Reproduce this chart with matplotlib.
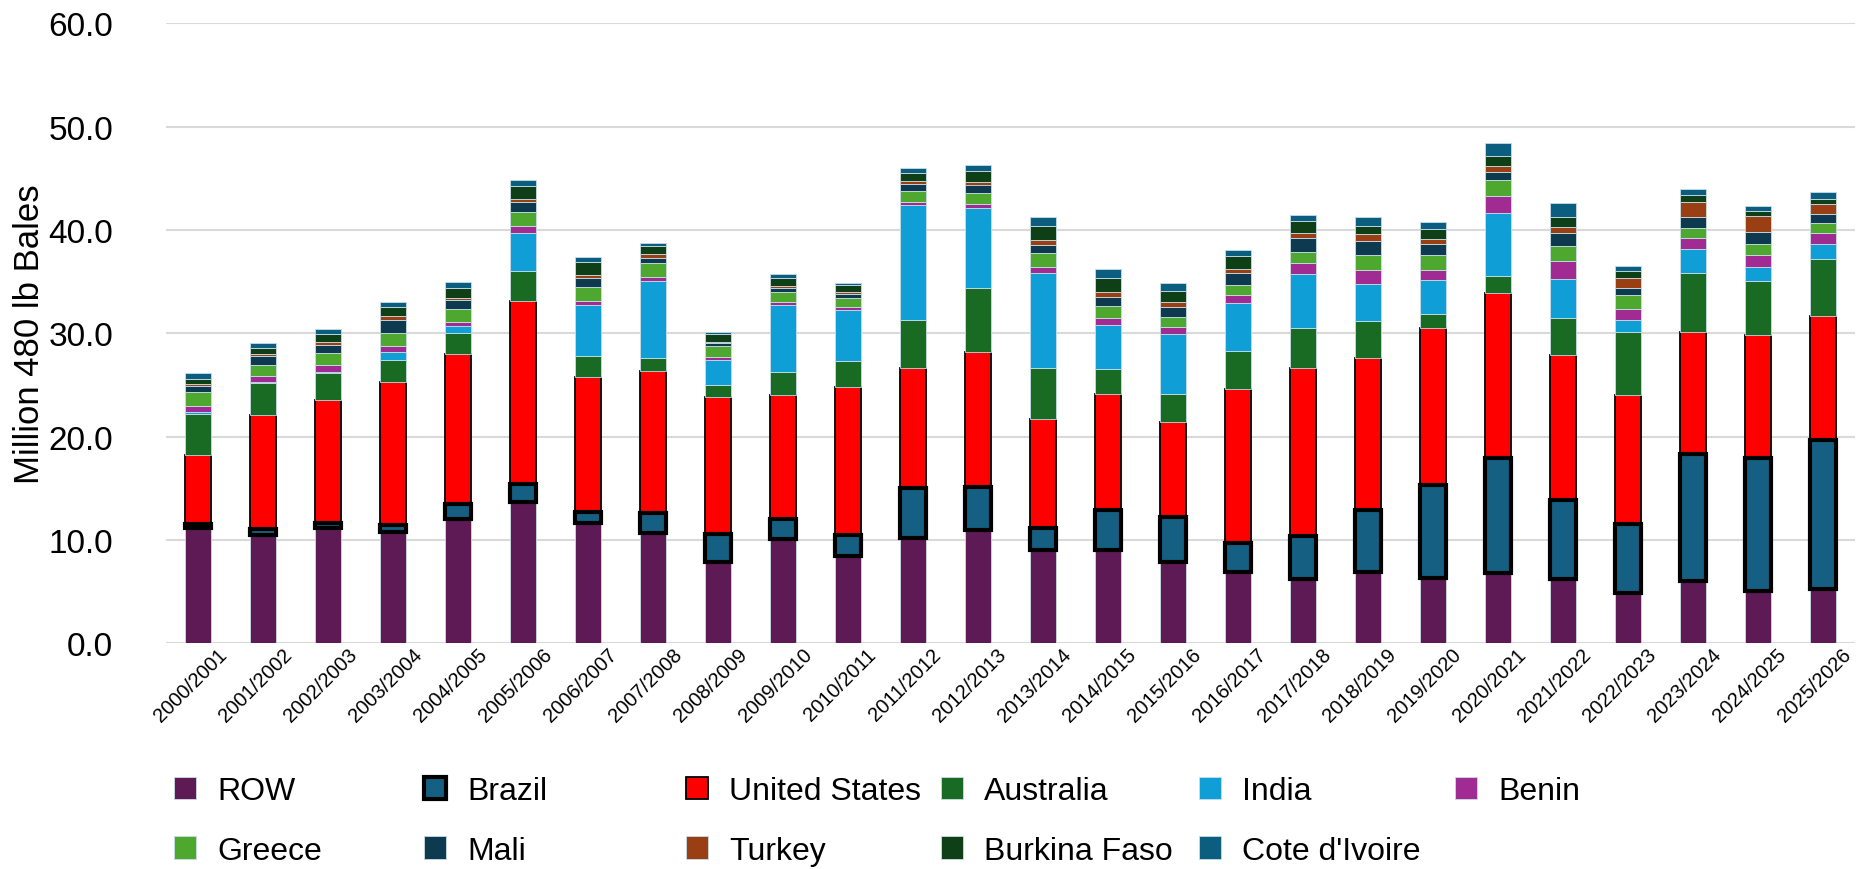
# stacked cotton production by country, 2000/2001 - 2025/2026
import matplotlib.pyplot as plt
import matplotlib.transforms as mtransforms
import numpy as np

plt.rcParams['font.family'] = ['Liberation Sans', 'DejaVu Sans']

years = ['2000/2001', '2001/2002', '2002/2003', '2003/2004', '2004/2005', '2005/2006',
         '2006/2007', '2007/2008', '2008/2009', '2009/2010', '2010/2011', '2011/2012',
         '2012/2013', '2013/2014', '2014/2015', '2015/2016', '2016/2017', '2017/2018',
         '2018/2019', '2019/2020', '2020/2021', '2021/2022', '2022/2023', '2023/2024',
         '2024/2025', '2025/2026']

row       = [11.15, 10.5, 11.2, 10.75, 12.0, 13.65, 11.6, 10.68, 7.9, 10.07, 8.42, 10.2, 10.94,
             9.03, 9.03, 7.87, 6.87, 6.25, 6.9, 6.32, 6.8, 6.2, 4.9, 6.06, 5.06, 5.26]
brazil    = [0.35, 0.6, 0.4, 0.7, 1.45, 1.77, 1.14, 1.97, 2.68, 1.96, 2.03, 4.83, 4.22,
             2.16, 3.87, 4.33, 2.87, 4.17, 6.03, 8.98, 11.1, 7.67, 6.62, 12.27, 12.88, 14.45]
usa       = [6.75, 11.0, 11.9, 13.82, 14.55, 17.75, 13.0, 13.74, 13.23, 12.04, 14.33, 11.62, 13.01,
             10.52, 11.23, 9.19, 14.88, 16.23, 14.69, 15.22, 15.98, 14.04, 12.52, 11.77, 11.93, 12.0]
australia = [3.95, 3.1, 2.65, 2.18, 2.0, 2.9, 2.1, 1.2, 1.23, 2.16, 2.52, 4.68, 6.2,
             4.9, 2.45, 2.77, 3.68, 3.87, 3.61, 1.36, 1.65, 3.58, 6.1, 5.71, 5.23, 5.49]
india     = [0.15, 0.1, 0.1, 0.7, 0.68, 3.65, 4.9, 7.45, 2.39, 6.52, 5.0, 11.1, 7.77,
             9.23, 4.2, 5.78, 4.62, 5.23, 3.55, 3.23, 6.13, 3.75, 1.1, 2.32, 1.32, 1.42]
benin     = [0.6, 0.6, 0.65, 0.65, 0.45, 0.65, 0.42, 0.45, 0.32, 0.32, 0.29, 0.26, 0.35,
             0.58, 0.71, 0.65, 0.77, 1.03, 1.39, 0.97, 1.58, 1.77, 1.1, 1.06, 1.13, 1.1]
greece    = [1.4, 1.05, 1.2, 1.24, 1.23, 1.35, 1.29, 1.35, 1.03, 0.9, 0.81, 1.1, 1.1,
             1.32, 1.19, 0.97, 1.03, 1.06, 1.36, 1.45, 1.61, 1.45, 1.36, 0.97, 1.1, 1.0]
mali      = [0.55, 0.9, 0.8, 1.2, 0.87, 0.97, 0.87, 0.45, 0.29, 0.42, 0.39, 0.65, 0.81,
             0.84, 0.87, 1.03, 1.1, 1.36, 1.36, 1.13, 0.74, 1.29, 0.71, 1.13, 1.19, 0.87]
turkey    = [0.15, 0.15, 0.3, 0.39, 0.2, 0.26, 0.32, 0.42, 0.13, 0.16, 0.19, 0.29, 0.26,
             0.42, 0.42, 0.42, 0.42, 0.48, 0.71, 0.48, 0.58, 0.58, 0.94, 1.42, 1.48, 0.9]
burkina   = [0.5, 0.6, 0.75, 0.9, 1.0, 1.35, 1.29, 0.74, 0.77, 0.77, 0.65, 0.74, 1.06,
             1.36, 1.36, 1.06, 1.23, 1.23, 0.77, 0.97, 1.03, 0.9, 0.68, 0.71, 0.48, 0.55]
cote      = [0.6, 0.45, 0.42, 0.48, 0.52, 0.55, 0.42, 0.32, 0.2, 0.39, 0.23, 0.48, 0.61,
             0.87, 0.87, 0.77, 0.58, 0.58, 0.87, 0.65, 1.19, 1.36, 0.48, 0.55, 0.52, 0.61]

names  = ['ROW', 'Brazil', 'United States', 'Australia', 'India', 'Benin',
          'Greece', 'Mali', 'Turkey', 'Burkina Faso', "Cote d'Ivoire"]
values = [row, brazil, usa, australia, india, benin, greece, mali, turkey, burkina, cote]
colors = ['#5E1A55', '#156082', '#FF0000', '#196B24', '#0F9ED5', '#A02B93',
          '#4EA72E', '#0E3A50', '#9A3F14', '#0F3F17', '#0B5E80']

W, H = 1858, 870
fig = plt.figure(figsize=(W/100, H/100), dpi=100)
ax = fig.add_axes([166/W, 1-644.3/H, 1689/W, 620/H])

x = np.arange(len(years))
bottom = np.zeros(len(years))
handles = []
for name, vals, col in zip(names, values, colors):
    if name == 'Brazil':
        kw = dict(edgecolor='black', linewidth=3, zorder=3)
    elif name == 'United States':
        kw = dict(edgecolor='black', linewidth=1.3, zorder=2)
    else:
        kw = dict(edgecolor='#c9dde7', linewidth=0.6, zorder=2)
    b = ax.bar(x, vals, 0.4, bottom=bottom, color=col, label=name, **kw)
    handles.append(b)
    bottom += np.array(vals)

ax.set_xlim(-0.5, 25.5)
ax.set_ylim(0, 60)
ax.set_yticks(np.arange(0, 61, 10))
ax.set_yticklabels(['{:.1f}'.format(v) for v in np.arange(0, 61, 10)], fontsize=24)
ax.set_xticks(x)
ax.set_xticklabels(years, rotation=45, fontsize=14.5)
ax.tick_params(length=0)
ax.tick_params(axis='y', pad=38)
ax.tick_params(axis='x', pad=1)
# nudge the rotated year labels a little to the left
shift = mtransforms.ScaledTranslation(-8/100, 0, fig.dpi_scale_trans)
for lbl in ax.get_xticklabels():
    lbl.set_transform(lbl.get_transform() + shift)
ax.yaxis.grid(True, color='#d9d9d9', linewidth=1.5)
ax.set_axisbelow(True)
for s in ax.spines.values():
    s.set_visible(False)

ax.set_ylabel('Million 480 lb Bales', fontsize=25, va='center')
ax.yaxis.set_label_coords(-0.081, 0.5)

# legend: one small legend per column so the columns are evenly spaced
leg_x = [174, 424, 686, 941, 1199, 1455]
for j in range(6):
    idx = [j] + ([j+6] if j+6 < len(names) else [])
    fig.legend([handles[i] for i in idx], [names[i] for i in idx],
               loc='upper left', bbox_to_anchor=(leg_x[j]/W, 1-777/H),
               frameon=False, fontsize=23, borderpad=0, borderaxespad=0,
               handlelength=0.7, handleheight=0.7, handletextpad=0.65,
               labelspacing=0.93)

fig.savefig('out.png', dpi=100)
